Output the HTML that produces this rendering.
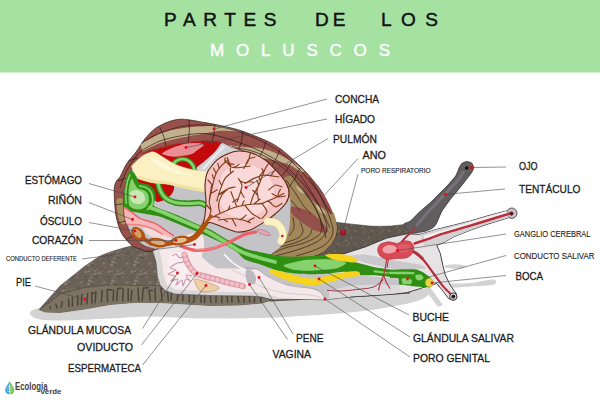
<!DOCTYPE html>
<html><head><meta charset="utf-8"><title>Partes de los moluscos</title>
<style>
html,body{margin:0;padding:0;background:#fff;}
body{width:600px;height:400px;overflow:hidden;font-family:"Liberation Sans",sans-serif;}
svg{display:block;position:absolute;left:0;top:0}
svg text{font-family:"Liberation Sans",sans-serif;}
</style></head><body>
<svg width="600" height="400" viewBox="0 0 600 400">
<defs>
<pattern id="speck" width="23" height="19" patternUnits="userSpaceOnUse">
<rect width="23" height="19" fill="#6b6157"/>
<ellipse cx="7.4" cy="2.9" rx="1.4" ry="0.8" fill="#5e554c"/>
<ellipse cx="2.2" cy="11.1" rx="1.7" ry="1.1" fill="#877c70"/>
<ellipse cx="10.0" cy="1.3" rx="0.8" ry="0.6" fill="#5e554c"/>
<ellipse cx="2.8" cy="4.2" rx="1.4" ry="1.2" fill="#5e554c"/>
<ellipse cx="13.5" cy="0.9" rx="0.9" ry="0.7" fill="#83786c"/>
<ellipse cx="6.7" cy="2.7" rx="0.8" ry="0.5" fill="#645a50"/>
<ellipse cx="4.2" cy="11.1" rx="1.4" ry="1.0" fill="#5e554c"/>
<ellipse cx="16.4" cy="10.7" rx="1.4" ry="1.0" fill="#5e554c"/>
<ellipse cx="9.8" cy="6.0" rx="1.3" ry="1.0" fill="#7d7267"/>
<ellipse cx="5.7" cy="3.4" rx="1.6" ry="0.9" fill="#7d7267"/>
<ellipse cx="12.1" cy="16.6" rx="1.5" ry="1.0" fill="#877c70"/>
<ellipse cx="2.7" cy="7.9" rx="1.5" ry="0.9" fill="#8b8073"/>
<ellipse cx="9.7" cy="18.3" rx="0.8" ry="0.6" fill="#7d7267"/>
<ellipse cx="7.8" cy="6.7" rx="1.2" ry="1.0" fill="#877c70"/>
<ellipse cx="19.3" cy="17.9" rx="1.2" ry="1.0" fill="#877c70"/>
<ellipse cx="16.8" cy="5.9" rx="1.3" ry="1.1" fill="#8b8073"/>
<ellipse cx="6.5" cy="7.3" rx="1.4" ry="0.8" fill="#8b8073"/>
<ellipse cx="8.2" cy="11.6" rx="1.2" ry="0.8" fill="#7d7267"/>
<ellipse cx="3.0" cy="4.7" rx="1.1" ry="1.0" fill="#877c70"/>
<ellipse cx="3.8" cy="7.6" rx="1.0" ry="0.6" fill="#8b8073"/>
<ellipse cx="19.9" cy="5.3" rx="1.2" ry="0.8" fill="#8b8073"/>
<ellipse cx="22.0" cy="2.9" rx="0.9" ry="0.6" fill="#83786c"/>
<ellipse cx="0.3" cy="15.8" rx="0.9" ry="0.6" fill="#83786c"/>
<ellipse cx="23.3" cy="15.8" rx="0.9" ry="0.6" fill="#83786c"/>
<ellipse cx="9.6" cy="7.0" rx="1.3" ry="1.2" fill="#645a50"/>
<ellipse cx="19.8" cy="-0.9" rx="1.4" ry="1.1" fill="#8b8073"/>
<ellipse cx="19.8" cy="18.1" rx="1.4" ry="1.1" fill="#8b8073"/>
<ellipse cx="20.7" cy="14.8" rx="1.7" ry="1.4" fill="#8b8073"/>
<ellipse cx="9.2" cy="7.5" rx="1.2" ry="0.8" fill="#83786c"/>
<ellipse cx="1.5" cy="4.0" rx="0.9" ry="0.6" fill="#877c70"/>
<ellipse cx="2.4" cy="10.8" rx="1.3" ry="1.1" fill="#5e554c"/>
<ellipse cx="0.6" cy="16.6" rx="1.4" ry="0.8" fill="#7d7267"/>
<ellipse cx="23.6" cy="16.6" rx="1.4" ry="0.8" fill="#7d7267"/>
<ellipse cx="-1.0" cy="11.4" rx="1.2" ry="0.7" fill="#8b8073"/>
<ellipse cx="22.0" cy="11.4" rx="1.2" ry="0.7" fill="#8b8073"/>
<ellipse cx="-0.2" cy="8.9" rx="1.2" ry="0.7" fill="#877c70"/>
<ellipse cx="22.8" cy="8.9" rx="1.2" ry="0.7" fill="#877c70"/>
<ellipse cx="17.2" cy="14.1" rx="1.2" ry="1.0" fill="#5e554c"/>
<ellipse cx="0.5" cy="18.1" rx="1.3" ry="0.8" fill="#5e554c"/>
<ellipse cx="23.5" cy="18.1" rx="1.3" ry="0.8" fill="#5e554c"/>
</pattern>
<pattern id="speck2" width="17" height="13" patternUnits="userSpaceOnUse">
<rect width="17" height="13" fill="#60574f"/>
<ellipse cx="15.5" cy="9.9" rx="0.7" ry="0.5" fill="#80766e"/>
<ellipse cx="11.8" cy="3.4" rx="0.8" ry="0.5" fill="#7b716a"/>
<ellipse cx="9.1" cy="10.1" rx="0.7" ry="0.5" fill="#7b716a"/>
<ellipse cx="13.7" cy="10.6" rx="1.0" ry="0.6" fill="#544b46"/>
<ellipse cx="6.0" cy="0.4" rx="0.5" ry="0.3" fill="#746a63"/>
<ellipse cx="3.3" cy="7.9" rx="0.7" ry="0.6" fill="#746a63"/>
<ellipse cx="16.2" cy="4.7" rx="0.7" ry="0.4" fill="#7b716a"/>
<ellipse cx="5.7" cy="6.3" rx="1.2" ry="0.9" fill="#80766e"/>
<ellipse cx="8.2" cy="8.5" rx="1.1" ry="0.6" fill="#80766e"/>
<ellipse cx="15.5" cy="10.2" rx="1.0" ry="0.7" fill="#7b716a"/>
<ellipse cx="7.4" cy="8.3" rx="0.6" ry="0.5" fill="#544b46"/>
<ellipse cx="7.9" cy="9.7" rx="0.6" ry="0.3" fill="#7b716a"/>
<ellipse cx="0.5" cy="7.7" rx="0.8" ry="0.6" fill="#544b46"/>
<ellipse cx="17.5" cy="7.7" rx="0.8" ry="0.6" fill="#544b46"/>
<ellipse cx="11.2" cy="4.6" rx="0.9" ry="0.5" fill="#80766e"/>
<ellipse cx="13.6" cy="9.4" rx="0.6" ry="0.5" fill="#7b716a"/>
<ellipse cx="7.4" cy="11.3" rx="1.1" ry="0.7" fill="#746a63"/>
<ellipse cx="3.6" cy="6.5" rx="1.0" ry="0.7" fill="#544b46"/>
<ellipse cx="14.2" cy="0.8" rx="1.0" ry="0.9" fill="#544b46"/>
<ellipse cx="14.2" cy="13.8" rx="1.0" ry="0.9" fill="#544b46"/>
</pattern>
</defs>
<rect x="0" y="0" width="600" height="400" fill="#ffffff"/>
<rect x="0" y="0" width="600" height="72.5" fill="#a5e1a1"/>
<g font-size="19" fill="#111" stroke="#111" stroke-width="0.45">
<text x="164" y="26" textLength="112.5" lengthAdjust="spacing">PARTES</text>
<text x="315" y="26" textLength="30.5" lengthAdjust="spacing">DE</text>
<text x="381" y="26" textLength="57" lengthAdjust="spacing">LOS</text>
</g>
<text x="210" y="56" font-size="17" textLength="180" lengthAdjust="spacing" fill="#ffffff" stroke="#fff" stroke-width="0.4">MOLUSCOS</text>
<g id="shadow" fill="#d3d3d3">
<path d="M30.0,313.0 C30.3,311.2 31.7,309.2 40.0,308.0 C48.3,306.8 53.3,307.3 80.0,306.0 C106.7,304.7 163.3,301.3 200.0,300.0 C236.7,298.7 270.0,299.2 300.0,298.0 C330.0,296.8 360.0,294.5 380.0,293.0 C400.0,291.5 411.7,289.2 420.0,289.0 C428.3,288.8 430.0,290.2 430.0,292.0 C430.0,293.8 426.7,297.5 420.0,300.0 C413.3,302.5 401.7,304.9 390.0,307.0 C378.3,309.1 365.0,311.0 350.0,312.5 C335.0,314.0 315.0,315.1 300.0,316.0 C285.0,316.9 276.7,317.6 260.0,318.0 C243.3,318.4 218.3,318.8 200.0,318.5 C181.7,318.2 165.0,316.5 150.0,316.5 C135.0,316.5 125.0,317.8 110.0,318.5 C95.0,319.2 72.0,320.4 60.0,320.5 C48.0,320.6 43.0,320.2 38.0,319.0 C33.0,317.8 29.7,314.8 30.0,313.0 Z" fill="#d3d3d3"/>
<path d="M424.0,288.0 L430.0,287.0 L443.0,305.0 L438.0,307.0 Z" fill="#d3d3d3"/>
<ellipse cx="455" cy="266.5" rx="11" ry="2.2"/>
<path d="M440.0,284.0 C444.7,283.2 461.3,283.8 470.0,283.0 C478.7,282.2 487.7,279.7 492.0,279.5 C496.3,279.3 496.0,281.1 496.0,282.0 C496.0,282.9 496.3,284.2 492.0,285.0 C487.7,285.8 478.3,286.0 470.0,286.5 C461.7,287.0 447.0,288.4 442.0,288.0 C437.0,287.6 435.3,284.8 440.0,284.0 Z" fill="#d3d3d3"/>
</g>
<g id="foot">
<path d="M39.0,309.5 L60.0,286.0 L85.0,266.0 L100.0,256.0 L110.0,252.0 L125.0,247.5 L137.0,244.5 L150.0,246.0 L160.0,250.0 L165.0,280.0 L175.0,292.0 L210.0,295.0 L262.0,296.0 L272.0,300.0 L262.0,303.0 L240.0,305.0 L210.0,305.5 L185.0,304.0 L160.0,302.5 L135.0,302.5 L110.0,304.5 L85.0,309.0 L60.0,312.5 L45.0,312.0 Z" fill="url(#speck)" stroke="#4a433e" stroke-width="0.5"/>
<path d="M40.0,310.0 L60.0,294.0 L85.0,287.5 L110.0,285.0 L160.0,286.0 L210.0,294.0 L262.0,296.5 L272.0,300.0 L262.0,303.0 L240.0,305.0 L210.0,305.5 L185.0,304.0 L160.0,302.5 L135.0,302.5 L110.0,304.5 L85.0,309.0 L60.0,312.5 L45.0,312.0 Z" fill="#7d7363"/>
<path d="M40.0,310.0 L60.0,294.0 L85.0,287.5 L110.0,285.0 L160.0,286.0 L210.0,294.0 L262.0,296.5 L272.0,300.0" fill="none" stroke="#4e463e" stroke-width="0.6"/>
<path d="M50.0,306.8 L50.3,308.8 M55.9,304.3 L57.0,308.0 M62.2,301.7 L61.1,307.2 M68.5,299.0 L68.9,306.4 M72.4,297.4 L72.4,305.9 M77.6,295.5 L77.8,305.2 M81.9,294.6 L81.3,304.7 M87.7,293.5 L86.9,303.9 M91.7,292.7 L92.0,303.4 M91.7,292.7 L94.2,293.3 M95.9,291.8 L95.2,302.8 M102.0,290.6 L101.5,302.0 M107.2,289.6 L107.6,301.4 M107.2,289.6 L112.0,290.0 M113.6,290.2 L113.1,300.8 M117.7,288.4 L116.6,300.8 M117.7,288.4 L121.7,287.9 M123.2,288.8 L122.8,300.8 M128.2,288.8 L128.2,300.8 M132.0,290.4 L130.8,300.8 M138.0,288.0 L138.7,300.8 M143.3,288.0 L142.2,300.8 M143.3,288.0 L148.2,287.8 M149.1,290.3 L150.2,300.8 M149.1,290.3 L152.5,290.5 M155.0,288.3 L155.5,300.8 M161.0,288.1 L162.1,300.8 M161.0,288.1 L164.4,288.4 M167.3,288.8 L168.3,300.8 M171.8,288.8 L171.0,300.8 M171.8,288.8 L174.7,289.2 M178.3,288.4 L177.2,300.8 M183.5,289.0 L182.8,300.8 M189.4,289.1 L189.3,302.3 M189.4,289.1 L194.2,288.7 M194.5,290.1 L193.6,302.3 M200.8,289.1 L201.1,302.3 M204.7,289.6 L204.6,302.3 M204.7,289.6 L209.4,289.5 M209.7,290.2 L210.9,302.3 M216.1,290.9 L216.0,302.3 M221.8,291.6 L221.8,302.3 M221.8,291.6 L225.3,291.3 M226.5,292.2 L227.7,302.3 M231.9,292.8 L231.9,302.3 M231.9,292.8 L234.6,292.7 M237.8,293.5 L238.7,302.3 M243.7,294.2 L244.3,302.3 M249.2,294.9 L249.8,302.3 M254.8,295.6 L254.3,302.3 M260.7,296.3 L261.1,302.3 M260.7,296.3 L265.5,296.6 " fill="none" stroke="#4c443c" stroke-width="1.5" stroke-linecap='round'/>
<path d="M268.0,299.0 L300.0,298.0 L350.0,295.5 L410.0,291.8 L410.0,293.5 L350.0,297.5 L300.0,300.0 L270.0,301.5 Z" fill="#5d544c"/>
</g>
<g id="darkbody">
<path d="M300.0,215.0 C304.5,211.5 328.0,220.9 335.0,222.0 C342.0,223.1 364.5,225.6 370.0,226.0 C375.5,226.4 386.7,226.2 390.0,226.0 C393.3,225.8 400.9,225.0 403.0,224.5 C405.1,224.0 408.9,222.2 410.5,221.0 C412.1,219.8 417.0,214.4 419.0,212.5 C421.0,210.6 428.7,204.2 430.7,202.4 C432.7,200.6 437.3,195.7 439.0,194.0 C440.7,192.3 445.7,187.4 447.4,185.6 C449.1,183.8 454.6,177.6 455.8,175.8 C457.0,174.0 458.7,168.8 459.3,167.6 C459.9,166.4 461.1,164.2 461.8,163.6 C462.5,163.0 465.5,161.7 466.5,161.6 C467.5,161.5 470.9,162.4 471.6,163.0 C472.3,163.6 473.6,166.5 473.6,167.5 C473.6,168.5 472.5,171.2 471.6,172.6 C470.7,174.0 466.3,179.5 465.0,181.2 C463.7,182.9 459.8,187.8 458.3,189.7 C456.8,191.6 451.6,197.6 450.0,199.8 C448.4,202.0 443.1,209.0 441.8,211.3 C440.5,213.6 437.5,221.3 436.6,223.0 C435.7,224.7 434.0,227.0 432.7,227.8 C431.4,228.7 426.6,230.9 424.0,231.5 C421.4,232.1 410.7,233.2 407.0,233.8 C403.3,234.5 391.2,236.7 387.0,238.0 C382.8,239.3 369.2,245.5 365.0,247.0 C360.8,248.5 350.7,252.4 345.0,253.4 C339.3,254.4 313.5,256.6 308.0,257.0 C302.5,257.4 290.8,261.2 290.0,257.0 C289.2,252.8 295.5,218.5 300.0,215.0 Z" fill="url(#speck2)" stroke="#3c3636" stroke-width="0.5"/>
<path d="M404.0,224.0 C404.1,222.8 409.0,222.2 410.5,221.0 C412.0,219.8 417.0,214.4 419.0,212.5 C421.0,210.6 428.7,204.2 430.7,202.4 C432.7,200.6 437.3,195.7 439.0,194.0 C440.7,192.3 445.7,187.4 447.4,185.6 C449.1,183.8 454.6,177.6 455.8,175.8 C457.0,174.0 458.7,168.8 459.3,167.6 C459.9,166.4 461.1,164.2 461.8,163.6 C462.5,163.0 465.5,161.7 466.5,161.6 C467.5,161.5 470.9,162.4 471.6,163.0 C472.3,163.6 473.6,166.5 473.6,167.5 C473.6,168.5 472.5,171.2 471.6,172.6 C470.7,174.0 466.3,179.5 465.0,181.2 C463.7,182.9 459.8,187.8 458.3,189.7 C456.8,191.6 451.6,197.6 450.0,199.8 C448.4,202.0 443.1,209.0 441.8,211.3 C440.5,213.6 437.5,221.3 436.6,223.0 C435.7,224.7 434.0,227.0 432.7,227.8 C431.4,228.7 426.3,231.0 424.0,231.5 C421.7,232.0 412.0,233.8 410.0,233.0 C408.0,232.2 403.9,225.2 404.0,224.0 Z" fill="#625d5e" stroke="#3c3636" stroke-width="0.5"/>
<path d="M416.0,226.0 C418.3,223.3 425.2,215.3 430.0,210.0 C434.8,204.7 440.3,199.0 445.0,194.0 C449.7,189.0 454.8,183.8 458.0,180.0 C461.2,176.2 463.0,172.5 464.0,171.0" fill="none" stroke="#75727a" stroke-width="3"/>
<circle cx="466.7" cy="168" r="1.8" fill="#141010"/>
</g>
<g id="body">
<path d="M149.0,245.0 L153.0,252.0 L156.0,262.0 L157.5,277.0 L160.0,285.0 L165.0,290.5 L175.0,294.0 L210.0,295.5 L250.0,296.0 L262.0,297.0 L272.0,299.8 L300.0,299.0 L325.0,300.0 L350.0,297.0 L380.0,295.0 L380.0,264.0 L340.0,259.0 L318.0,257.5 L300.0,250.0 L200.0,228.0 L150.0,238.0 Z" fill="#d9d6d8" stroke="#4a4444" stroke-width="0.5"/>
<path d="M156.0,246.0 L160.0,252.0 L162.0,262.0 L163.5,276.0 L167.0,285.0 L175.0,289.5 L210.0,291.5 L250.0,292.3 L262.0,292.5 L278.5,297.5 L295.0,299.0 L324.0,299.3 L321.0,292.0 L312.0,288.6 L287.0,285.0 L267.0,276.0 L257.0,268.5 L250.0,265.0 L230.0,240.0 L200.0,230.0 L160.0,238.0 Z" fill="#f5e8ea"/>
<path d="M200.0,228.0 L201.0,245.0 L202.0,257.0 L209.0,263.5 L217.0,268.5 L237.0,268.5 L250.0,270.0 L257.0,269.0 L267.0,276.0 L287.0,285.0 L312.0,288.6 L320.0,292.0 L326.0,298.5 L350.0,296.3 L380.0,294.3 L380.0,264.0 L340.0,259.0 L318.0,257.5 L300.0,250.0 L250.0,232.0 Z" fill="#c3c3c8"/>
<path d="M246.0,270.0 C246.8,268.2 250.3,269.7 252.0,271.0 C253.7,272.3 255.7,275.8 256.0,278.0 C256.3,280.2 255.5,283.3 254.0,284.0 C252.5,284.7 248.3,284.3 247.0,282.0 C245.7,279.7 245.2,271.8 246.0,270.0 Z" fill="#b9b9be"/>
<path d="M245.0,268.0 C247.0,268.2 253.3,267.7 257.0,269.0 C260.7,270.3 262.0,273.3 267.0,276.0 C272.0,278.7 279.5,282.9 287.0,285.0 C294.5,287.1 306.5,287.4 312.0,288.6 C317.5,289.8 317.8,290.4 320.0,292.0 C322.2,293.6 324.2,297.4 325.0,298.5" fill="none" stroke="#8a8086" stroke-width="0.5"/>
<path d="M232.0,270.0 C234.2,271.0 240.0,273.2 245.0,276.0 C250.0,278.8 255.3,284.2 262.0,287.0 C268.7,289.8 277.0,291.7 285.0,293.0 C293.0,294.3 303.8,294.2 310.0,295.0 C316.2,295.8 320.0,297.5 322.0,298.0" fill="none" stroke="#b8aeb4" stroke-width="0.5"/>
<path d="M224.0,254.0 C225.3,255.3 229.3,259.8 232.0,262.0 C234.7,264.2 237.7,266.2 240.0,267.5 C242.3,268.8 245.0,269.6 246.0,270.0" fill="none" stroke="#fbf7f8" stroke-width="1.6"/>
<path d="M170.0,254.0 C171.7,252.2 178.7,252.1 181.0,252.5 C183.3,252.9 186.3,255.2 187.0,257.0 C187.7,258.8 185.5,263.7 186.0,266.0 C186.5,268.3 190.2,272.0 191.0,274.0 C191.8,276.0 192.9,279.3 192.0,281.0 C191.1,282.7 186.4,286.3 184.0,287.0 C181.6,287.7 176.3,287.2 174.0,286.0 C171.7,284.8 167.8,280.7 167.0,278.0 C166.2,275.3 167.6,269.2 168.0,266.0 C168.4,262.8 168.3,255.8 170.0,254.0 Z" fill="#faeef0"/>
<path d="M172.0,256.0 C172.5,255.7 174.9,253.7 176.0,254.0 C177.1,254.3 178.8,257.9 180.0,258.0 C181.2,258.1 184.6,254.5 185.0,255.0 C185.4,255.5 184.1,260.9 183.0,262.0 C181.9,263.1 178.7,262.2 177.0,263.0 C175.3,263.8 170.1,267.1 170.0,268.0 C169.9,268.9 176.3,269.2 176.0,270.0 C175.7,270.8 168.1,273.2 168.0,274.0 C167.9,274.8 174.6,275.1 175.0,276.0 C175.4,276.9 170.6,280.6 171.0,281.0 C171.4,281.4 177.3,278.5 178.0,279.0 C178.7,279.5 175.5,284.9 176.0,285.0 C176.5,285.1 181.1,279.9 182.0,280.0 C182.9,280.1 182.5,286.1 183.0,286.0 C183.5,285.9 185.1,279.7 186.0,279.0 C186.9,278.3 190.0,281.5 190.0,281.0 C190.0,280.5 185.7,275.7 186.0,275.0 C186.3,274.3 191.2,275.9 192.0,276.0" fill="none" stroke="#c59aae" stroke-width="1.1"/>
<path d="M184.5,254.5 C184.9,255.8 185.9,259.7 187.0,262.0 C188.1,264.3 189.5,266.6 191.0,268.5 C192.5,270.4 193.7,272.2 196.0,273.5 C198.3,274.8 201.8,275.6 205.0,276.5 C208.2,277.4 211.5,278.1 215.0,279.0 C218.5,279.9 222.5,281.1 226.0,282.0 C229.5,282.9 233.2,283.8 236.0,284.5 C238.8,285.2 241.8,285.9 243.0,286.2" fill="none" stroke="#dc9aa8" stroke-width="6" stroke-linecap='round'/>
<path d="M184.5,254.5 C184.9,255.8 185.9,259.7 187.0,262.0 C188.1,264.3 189.5,266.6 191.0,268.5 C192.5,270.4 193.7,272.2 196.0,273.5 C198.3,274.8 201.8,275.6 205.0,276.5 C208.2,277.4 211.5,278.1 215.0,279.0 C218.5,279.9 222.5,281.1 226.0,282.0 C229.5,282.9 233.2,283.8 236.0,284.5 C238.8,285.2 241.8,285.9 243.0,286.2" fill="none" stroke="#f4c0c8" stroke-width="4.3" stroke-linecap='round' stroke-dasharray='0.1 4.9'/>
<path d="M194.5,279.5 C195.2,278.4 200.7,280.4 203.0,281.0 C205.3,281.6 209.8,283.1 212.0,284.0 C214.2,284.9 219.4,287.1 219.5,288.0 C219.6,288.9 215.1,290.5 213.0,291.0 C210.9,291.5 206.0,292.3 204.0,292.0 C202.0,291.7 199.3,290.7 198.0,289.0 C196.7,287.3 193.8,280.6 194.5,279.5 Z" fill="#f1cfa6" stroke="#b58a5c" stroke-width="0.6"/>
</g>
<g id="headbase">
<path d="M340.0,254.5 L345.0,253.4 L365.0,247.0 L387.0,238.0 L407.0,233.8 L420.0,234.4 L436.8,229.3 L453.5,225.2 L470.3,221.0 L487.0,216.0 L506.3,210.9 L508.8,217.6 L487.0,224.3 L470.3,230.2 L453.5,236.9 L445.1,241.9 L436.8,245.3 L440.3,253.4 L442.8,265.1 L445.3,275.2 L450.3,285.2 L456.2,293.6 L456.8,297.5 L454.0,300.2 L450.5,299.5 L448.6,298.6 L443.6,291.9 L436.9,283.5 L433.6,284.4 L420.2,288.6 L406.8,292.7 L390.0,294.4 L350.0,296.8 L330.0,298.0 L330.0,258.0 Z" fill="#e7e3e5"/>
<path d="M340.0,254.5 L345.0,253.4 L365.0,247.0 L387.0,238.0 L407.0,233.8 L420.0,234.4 L436.8,229.3 L453.5,225.2 L470.3,221.0 L487.0,216.0 L506.3,210.9 L508.8,217.6 L487.0,224.3 L470.3,230.2 L453.5,236.9 L445.1,241.9 L436.8,245.3 L440.3,253.4 L442.8,265.1 L445.3,275.2 L450.3,285.2 L456.2,293.6 L456.8,297.5 L454.0,300.2 L450.5,299.5 L448.6,298.6 L443.6,291.9 L436.9,283.5 L433.6,284.4 L420.2,288.6 L406.8,292.7 L390.0,294.4 L350.0,296.8" fill="none" stroke="#343036" stroke-width="0.9" stroke-linejoin='round'/>
<circle cx="511.8" cy="213.2" r="5.2" fill="#c6c3c6" stroke="#3a3434" stroke-width="0.8"/>
<circle cx="511.4" cy="213.6" r="2.1" fill="#7a2a32"/><circle cx="511.4" cy="213.6" r="1.4" fill="#2a1a1c"/>
<path d="M350.0,256.0 C351.2,255.4 360.9,254.2 365.0,254.5 C369.1,254.8 380.9,257.7 385.0,258.5 C389.1,259.3 395.9,260.8 400.0,261.5 C404.1,262.2 417.1,263.7 420.0,264.5 C422.9,265.3 427.3,267.9 425.0,268.5 C422.7,269.1 404.7,269.6 400.0,269.5 C395.3,269.4 388.5,268.1 385.0,267.5 C381.5,266.9 373.5,264.9 370.0,264.0 C366.5,263.1 357.3,260.4 355.0,259.5 C352.7,258.6 348.8,256.6 350.0,256.0 Z" fill="#cac8cc"/>
<path d="M329.0,272.0 L345.0,274.0 L360.0,275.5 L398.0,278.5 L399.0,285.5 L380.0,284.5 L350.0,286.0 L329.0,291.0 Z" fill="#c6c5c9"/>
<path d="M329.0,291.0 L350.0,286.0 L380.0,284.5 L399.0,285.5 L402.0,292.5 L390.0,294.0 L350.0,296.5 L329.0,298.0 Z" fill="#dcd9dc"/>
<path d="M419.0,236.0 C420.6,234.5 427.7,233.0 430.0,233.0 C432.3,233.0 435.7,234.5 436.0,236.0 C436.3,237.5 433.6,242.3 432.0,244.0 C430.4,245.7 425.9,249.0 424.0,249.0 C422.1,249.0 418.7,245.7 418.0,244.0 C417.3,242.3 417.4,237.5 419.0,236.0 Z" fill="#f0e0e3"/>
<path d="M420.0,234.6 L436.8,229.5 L453.5,225.4 L470.3,221.2 L487.0,216.2 L506.3,211.1 L508.6,217.4 L487.0,224.1 L470.3,230.0 L453.5,236.7 L445.1,241.7 L436.8,245.0 L424.0,246.0 Z" fill="#d4d1d4"/>
<path d="M424.0,237.5 L453.5,229.0 L487.0,218.8 L507.0,213.0" fill="none" stroke="#f3eeef" stroke-width="3.6"/>
</g>
<g id="shell">
<path d="M150.0,251.5 C146.2,251.9 142.7,249.9 140.0,249.0 C137.3,248.1 134.5,247.6 131.8,245.3 C129.1,243.0 124.1,238.0 121.7,233.5 C119.3,229.0 117.0,221.5 115.9,215.0 C114.8,208.5 114.1,195.1 114.2,190.0 C114.3,184.9 115.6,182.9 116.5,181.0 C117.4,179.1 118.5,179.6 120.0,177.0 C121.5,174.4 124.4,167.3 126.8,163.6 C129.2,159.8 133.2,155.8 136.0,152.0 C138.8,148.2 142.3,142.0 145.2,138.5 C148.1,135.0 151.8,130.9 155.3,128.4 C158.8,125.9 164.7,123.1 168.7,121.7 C172.7,120.3 176.6,119.1 182.0,119.2 C187.4,119.3 198.6,121.5 205.0,122.6 C211.4,123.7 219.5,125.2 225.0,126.5 C230.5,127.8 235.5,128.8 241.9,131.0 C248.3,133.2 261.7,138.6 267.5,141.2 C273.3,143.9 276.8,146.3 280.5,148.9 C284.2,151.5 288.8,155.5 292.5,158.9 C296.2,162.3 300.9,166.6 305.3,171.5 C309.7,176.4 317.7,185.1 322.0,191.9 C326.3,198.7 331.6,211.5 333.8,217.0 C336.1,222.5 337.0,225.0 337.0,228.5 C337.0,232.0 336.1,236.6 333.8,240.2 C331.6,243.8 327.0,250.0 322.0,252.8 C317.0,255.6 309.0,257.9 300.2,259.0 C291.4,260.1 270.9,260.8 263.4,260.3 C255.9,259.9 255.3,258.3 250.0,256.0 C244.7,253.7 235.5,247.6 228.0,245.0 C220.5,242.4 209.4,238.8 200.0,239.0 C190.6,239.2 172.5,244.1 165.0,246.0 C157.5,247.9 153.8,251.1 150.0,251.5 Z" fill="#97504a" stroke="#2a1a16" stroke-width="0.7"/>
<path d="M283.0,180.0 C282.7,182.5 288.4,190.8 289.4,195.0 C290.4,199.2 290.2,207.2 290.2,211.7 C290.2,216.2 290.3,224.2 289.4,228.5 C288.5,232.8 286.5,239.8 283.5,243.6 C280.5,247.4 269.4,254.8 266.7,257.0 C264.0,259.2 258.9,260.0 263.4,260.3 C267.9,260.6 292.4,260.0 300.2,259.0 C308.0,258.0 317.5,255.3 322.0,252.8 C326.5,250.3 331.8,243.4 333.8,240.2 C335.8,237.0 336.9,231.9 337.0,228.5 C337.1,225.1 335.4,217.3 334.6,215.0 C333.8,212.7 332.7,212.3 331.0,211.0 C329.3,209.7 324.5,207.0 322.0,205.0 C319.5,203.0 314.7,198.5 312.0,196.0 C309.3,193.5 304.7,188.7 302.0,186.0 C299.3,183.3 294.5,176.8 292.0,176.0 C289.5,175.2 283.3,177.5 283.0,180.0 Z" fill="#a2875a"/>
<path d="M226.0,145.5 C225.7,145.2 227.8,145.4 230.0,145.6 C232.2,145.8 239.2,146.6 242.5,146.9 C245.8,147.2 251.7,147.1 255.0,147.5 C258.3,147.9 264.2,149.0 267.5,150.0 C270.8,151.0 276.7,153.4 280.0,155.0 C283.3,156.6 289.7,160.2 292.5,161.9 C295.3,163.6 299.2,166.4 301.0,168.0 C302.8,169.6 306.1,173.6 306.0,174.0 C305.9,174.4 302.1,172.4 300.0,171.2 C297.9,170.1 292.7,166.2 290.0,165.0 C287.3,163.8 283.0,162.7 280.0,161.9 C277.0,161.1 270.0,159.3 267.5,158.8 C265.0,158.2 263.8,158.9 261.2,158.1 C258.8,157.3 251.6,153.7 248.8,152.5 C245.9,151.3 242.2,149.4 240.0,148.8 C237.8,148.1 233.9,148.2 232.0,147.8 C230.1,147.4 226.3,145.8 226.0,145.5 Z" fill="#c2b08c"/>
<path d="M296.0,186.0 C296.3,185.7 300.7,188.4 302.0,189.5 C303.3,190.6 306.3,193.7 306.0,194.0 C305.7,194.3 301.3,193.1 300.0,192.0 C298.7,190.9 295.7,186.3 296.0,186.0 Z" fill="#c4b188"/>
<path d="M316.0,205.0 C316.3,204.5 320.7,206.7 322.0,208.0 C323.3,209.3 325.8,214.0 325.5,214.5 C325.2,215.0 321.3,213.3 320.0,212.0 C318.7,210.7 315.7,205.5 316.0,205.0 Z" fill="#cbb992"/>
<path d="M291.0,206.5 C292.4,206.1 297.1,207.2 300.0,208.0 C302.9,208.8 307.0,210.2 310.0,212.0 C313.0,213.8 317.4,217.4 320.0,220.0 C322.6,222.6 326.6,227.6 327.5,229.5 C328.4,231.4 327.9,232.3 326.0,232.5 C324.1,232.7 318.3,231.8 315.0,230.5 C311.7,229.2 307.0,226.0 304.0,224.0 C301.0,222.0 297.0,218.9 295.0,217.0 C293.0,215.1 291.1,212.6 290.5,211.0 C289.9,209.4 289.6,206.9 291.0,206.5 Z" fill="#94504a"/>
<path d="M305.3,171.5 C307.2,172.2 311.8,178.8 314.0,181.5 C316.2,184.2 320.1,189.0 322.0,191.9 C323.9,194.8 327.0,200.1 328.5,203.0 C330.0,205.9 333.5,213.1 333.0,214.0 C332.5,214.9 327.3,210.9 325.0,209.5 C322.7,208.1 318.4,205.4 316.0,203.5 C313.6,201.6 308.9,197.8 307.0,195.5 C305.1,193.2 303.0,188.5 302.0,186.0 C301.0,183.5 299.1,178.4 299.5,176.5 C299.9,174.6 303.4,170.8 305.3,171.5 Z" fill="#97504a"/>
<path d="M141.0,144.0 C141.6,142.7 146.3,140.9 148.0,140.0 C149.7,139.1 153.9,136.8 155.3,136.0 C156.7,135.2 158.3,134.1 160.0,133.5 C161.7,132.9 167.7,131.1 170.0,130.5 C172.3,129.9 177.7,128.9 180.0,128.5 C182.3,128.1 187.7,127.4 190.0,127.2 C192.3,127.0 197.7,126.6 200.0,126.5 C202.3,126.4 207.7,126.1 210.0,126.0 C212.3,125.9 217.7,125.7 220.0,126.0 C222.3,126.3 227.7,127.8 230.0,128.5 C232.3,129.2 240.0,131.5 240.0,131.8 C240.0,132.1 232.3,131.1 230.0,131.0 C227.7,130.9 222.3,130.6 220.0,130.8 C217.7,131.0 212.3,131.9 210.0,132.3 C207.7,132.7 202.3,133.9 200.0,134.3 C197.7,134.7 192.3,135.6 190.0,136.0 C187.7,136.4 182.3,137.5 180.0,138.0 C177.7,138.5 172.3,139.7 170.0,140.3 C167.7,140.9 161.7,142.5 160.0,143.0 C158.3,143.5 156.8,144.3 155.3,145.0 C153.8,145.7 148.5,148.3 147.0,149.0 C145.5,149.7 143.4,151.6 142.7,151.0 C142.0,150.4 140.4,145.3 141.0,144.0 Z" fill="#c2b08c"/>
<path d="M116.5,200.0 C117.2,198.3 121.6,197.1 122.5,199.0 C123.4,200.9 122.7,210.7 123.0,214.0 C123.3,217.3 125.4,222.9 125.0,224.0 C124.6,225.1 121.0,223.6 120.0,222.0 C119.0,220.4 118.0,214.9 117.5,212.0 C117.0,209.1 115.8,201.7 116.5,200.0 Z" fill="#a8935f"/>
<path d="M124.0,180.0 C124.1,178.7 127.9,173.5 129.5,171.0 C131.1,168.5 134.6,163.0 136.0,161.0 C137.4,159.0 139.3,156.1 140.0,156.0 C140.7,155.9 141.8,158.1 141.0,160.0 C140.2,161.9 135.7,167.2 134.0,170.0 C132.3,172.8 129.8,179.7 128.5,181.0 C127.2,182.3 123.9,181.3 124.0,180.0 Z" fill="#9a6a58"/>
<path d="M120.0,188.0 C121.0,185.3 124.3,175.1 127.0,170.0 C129.7,164.9 135.0,157.4 138.0,154.0 C141.0,150.6 143.7,149.4 147.0,147.5 C150.3,145.6 155.1,142.7 160.0,141.0 C164.9,139.3 173.2,137.1 180.0,136.0 C186.8,134.9 197.2,132.9 205.0,133.5 C212.8,134.1 223.8,137.4 232.0,140.0 C240.2,142.6 252.1,147.1 260.0,151.0 C267.9,154.9 278.2,160.8 285.0,166.0 C291.8,171.2 299.8,179.8 305.0,186.0 C310.2,192.2 316.2,200.7 320.0,207.0 C323.8,213.3 328.5,224.8 330.0,228.0 M141.0,143.5 C143.1,142.2 149.4,137.6 155.3,135.1 C161.2,132.6 172.9,128.2 180.4,126.7 C187.9,125.2 197.9,124.7 205.0,125.0 C212.1,125.3 220.5,126.5 228.0,128.5 C235.5,130.4 247.2,134.5 255.0,138.0 C262.8,141.5 273.2,147.2 280.0,152.0 C286.8,156.8 294.3,164.0 300.0,170.0 C305.7,176.0 313.4,185.4 318.0,192.0 C322.6,198.6 329.1,210.7 331.0,214.0 M232.0,146.5 C235.4,147.3 248.6,149.7 255.0,152.0 C261.4,154.3 269.4,158.4 275.0,162.0 C280.6,165.6 287.1,170.9 292.0,176.0 C296.9,181.1 303.8,189.7 308.0,196.0 C312.2,202.3 317.3,211.7 320.0,218.0 C322.7,224.3 325.1,235.0 326.0,238.0 M160,127.5 Q164.5,136.3 166,146 M189,119.5 Q190.3,131.1 188,142.5 M215,124.5 Q214.9,133.2 212,141.5 M243,131.5 Q242.1,142.2 238,152 M266,141.5 Q263.8,150.3 259,158 M280,149.5 Q276.9,159.0 271,167 M292,161 Q287.4,170.5 280,178 M300,168 Q295.3,180.0 287,190 M128,161.5 Q132.7,158.9 138,158 M118,181 Q122.8,178.7 128,178 M115,205 Q119.7,203.7 124.5,204 M118,223 Q122.3,221.3 127,221 M126,239.5 Q129.7,237.1 134,236 M309.0,177.0 C310.5,179.4 316.0,187.3 319.0,193.0 C322.0,198.7 326.6,209.2 328.7,215.0 C330.8,220.8 333.4,227.7 333.0,232.0 C332.6,236.3 329.1,241.2 326.0,244.0 C322.9,246.8 316.5,249.2 312.0,251.0 C307.5,252.8 298.4,255.2 296.0,256.0 M300.0,175.0 C301.8,177.7 308.7,187.5 312.0,193.0 C315.3,198.5 319.8,206.4 322.0,211.7 C324.2,217.0 327.1,224.4 327.0,228.5 C326.9,232.6 323.9,236.4 321.0,239.0 C318.1,241.6 312.4,244.1 308.0,246.0 C303.6,247.9 296.8,250.0 291.9,251.5 C286.9,253.0 277.5,255.3 275.0,256.0 M292.0,176.0 C293.8,178.4 300.7,187.7 304.0,192.0 C307.3,196.3 311.2,200.8 313.7,205.0 C316.2,209.2 319.4,215.7 320.4,220.0 C321.4,224.3 322.7,230.1 320.4,233.5 C318.1,236.9 310.8,240.2 305.3,242.5 C299.8,244.8 289.1,246.5 283.5,248.5 C277.9,250.5 270.3,254.9 268.0,256.0 M286.0,180.0 C287.5,182.1 293.4,190.2 296.0,194.0 C298.6,197.8 300.8,202.0 303.0,205.0 C305.2,208.0 309.8,212.7 311.0,214.0 M291.0,200.0 C291.8,200.9 294.6,204.3 296.0,206.0 C297.4,207.7 299.4,210.2 300.0,211.0 M300.0,222.0 C300.4,223.3 303.3,228.6 303.0,231.0 C302.7,233.4 300.9,236.2 298.0,238.0 C295.1,239.8 286.1,242.2 284.0,243.0 M293.0,217.0 C293.1,218.7 294.6,225.2 294.0,228.0 C293.4,230.8 289.8,234.8 289.0,236.0 M312.0,229.0 C311.6,230.1 311.4,234.0 309.0,236.0 C306.6,238.0 300.4,240.8 296.0,242.5 C291.6,244.2 282.4,246.3 280.0,247.0" fill="none" stroke="#241612" stroke-width="0.65"/>
</g>
<g id="organs">
<path d="M124.2,190.0 C124.7,186.5 127.3,179.9 128.4,177.0 C129.5,174.1 132.6,167.5 134.0,165.0 C135.4,162.5 138.4,156.8 140.2,155.2 C141.9,153.6 147.2,151.7 149.0,151.0 C150.8,150.3 153.1,150.0 155.3,149.4 C157.5,148.8 165.1,146.7 168.0,146.0 C170.9,145.3 176.1,144.1 180.4,143.5 C184.7,142.9 200.1,141.1 205.0,141.0 C209.9,140.9 218.8,142.2 222.0,143.0 C225.2,143.8 229.7,147.1 232.0,148.0 C234.3,148.9 239.8,150.5 241.9,151.0 C244.0,151.5 247.6,151.5 250.3,152.6 C253.0,153.7 262.0,157.6 265.3,160.0 C268.6,162.4 276.3,170.3 278.8,173.5 C281.3,176.7 285.6,183.7 287.0,187.0 C288.4,190.3 290.1,199.1 290.5,202.0 C290.9,204.9 290.3,208.6 290.2,211.7 C290.1,214.8 290.2,224.8 289.4,228.5 C288.6,232.2 286.1,240.3 283.5,243.6 C280.9,246.9 270.6,255.3 266.7,257.0 C262.8,258.7 254.5,259.3 250.0,258.0 C245.5,256.7 233.8,248.1 228.0,246.0 C222.2,243.9 207.3,239.8 200.0,240.0 C192.7,240.2 170.4,246.5 165.0,247.5 C159.6,248.5 156.0,248.9 153.5,248.6 C151.0,248.3 146.0,246.9 143.5,245.3 C141.0,243.7 133.8,237.7 131.8,235.2 C129.8,232.7 127.6,226.8 126.7,223.5 C125.8,220.2 124.5,210.6 124.2,206.7 C123.9,202.8 123.7,193.5 124.2,190.0 Z" fill="#c3c3c8"/>
<path d="M153.5,248.6 C152.3,248.2 146.0,246.9 143.5,245.3 C141.0,243.7 133.8,237.7 131.8,235.2 C129.8,232.7 127.6,226.8 126.7,223.5 C125.8,220.2 124.5,210.6 124.2,206.7 C123.9,202.8 123.7,193.5 124.2,190.0 C124.7,186.5 127.3,179.9 128.4,177.0 C129.5,174.1 132.6,167.5 134.0,165.0 C135.4,162.5 138.4,156.8 140.2,155.2 C141.9,153.6 147.2,151.7 149.0,151.0 C150.8,150.3 153.1,150.0 155.3,149.4 C157.5,148.8 165.1,146.7 168.0,146.0 C170.9,145.3 176.1,144.1 180.4,143.5 C184.7,142.9 200.1,141.1 205.0,141.0 C209.9,140.9 218.8,142.2 222.0,143.0 C225.2,143.8 230.8,147.4 232.0,148.0" fill="none" stroke="#2a1a16" stroke-width="0.5"/>
<path d="M186.0,236.0 C188.1,234.1 193.7,233.0 196.0,233.0 C198.3,233.0 201.9,234.0 203.0,236.0 C204.1,238.0 204.4,245.3 204.0,248.0 C203.6,250.7 202.1,255.5 200.0,256.0 C197.9,256.5 190.7,253.2 188.0,252.0 C185.3,250.8 180.3,249.1 180.0,247.0 C179.7,244.9 183.9,237.9 186.0,236.0 Z" fill="#f5e8ea"/>
<path d="M137.0,162.0 C135.6,162.4 138.8,157.8 139.5,157.0 C140.2,156.2 142.6,154.1 143.5,153.5 C144.4,152.9 147.8,151.4 149.0,151.0 C150.2,150.6 153.4,149.9 155.3,149.4 C157.2,148.9 165.5,146.6 168.0,146.0 C170.5,145.4 176.7,144.0 180.4,143.5 C184.1,143.0 200.8,141.1 205.0,141.0 C209.2,140.9 221.0,141.9 222.0,143.0 C223.0,144.1 216.7,150.2 215.0,152.0 C213.3,153.8 206.8,159.4 205.0,161.0 C203.2,162.6 198.2,166.5 197.0,167.5 C195.8,168.5 195.0,171.2 193.0,171.0 C191.0,170.8 179.8,167.2 177.0,166.0 C174.2,164.8 167.7,160.7 165.3,159.4 C163.0,158.1 156.3,152.4 153.5,152.7 C150.7,153.0 138.4,161.6 137.0,162.0 Z" fill="#c20a0d"/>
<path d="M222.0,143.0 C223.7,142.6 230.1,147.2 232.0,148.0 C233.9,148.8 241.3,150.5 241.0,151.0 C240.7,151.5 230.9,152.5 228.5,153.4 C226.1,154.3 218.9,158.2 216.8,160.1 C214.7,161.9 208.8,169.7 207.6,171.9 C206.4,174.1 205.8,182.0 205.0,182.0 C204.2,182.0 200.8,173.4 200.0,172.0 C199.2,170.6 196.5,168.6 197.0,167.5 C197.5,166.4 203.2,162.6 205.0,161.0 C206.8,159.4 213.3,153.8 215.0,152.0 C216.7,150.2 220.3,143.4 222.0,143.0 Z" fill="#d2d2d7"/>
<path d="M224.0,146.5 L213.0,158.0 L203.0,169.0" fill="none" stroke="#ececf0" stroke-width="2"/>
<path d="M162.0,153.8 C161.8,152.8 169.3,149.2 172.0,148.0 C174.7,146.8 182.4,144.4 185.4,143.8 C188.4,143.2 195.9,142.9 198.0,143.0 C200.1,143.1 203.9,144.1 203.8,145.0 C203.7,145.9 198.6,149.4 197.0,150.5 C195.4,151.6 193.1,153.8 190.4,154.5 C187.7,155.2 176.9,156.8 173.6,156.7 C170.3,156.6 162.2,154.8 162.0,153.8 Z" fill="#e98e94"/>
<path d="M134.0,179.0 C135.5,178.4 147.5,180.4 151.9,181.0 C156.3,181.6 169.4,183.1 172.0,184.0 C174.6,184.9 174.1,187.7 174.0,189.0 C173.9,190.3 172.2,193.7 171.0,195.0 C169.8,196.3 165.6,199.2 164.0,200.0 C162.4,200.8 158.3,202.3 157.0,202.0 C155.7,201.7 154.2,198.4 153.0,197.0 C151.8,195.6 148.6,191.3 147.0,190.0 C145.4,188.7 140.5,187.3 139.0,186.0 C137.5,184.7 132.5,179.6 134.0,179.0 Z" fill="#c20a0d"/>
<path d="M172.5,168 C173,156.5 191.5,155 194.5,170" fill="none" stroke="#2f8f13" stroke-width="5"/>
<path d="M172.5,168 C173,156.5 191.5,155 194.5,170" fill="none" stroke="#86d26e" stroke-width="2.6"/>
<path d="M178,168 C179,162.5 187,162 188.5,168.5 Z" fill="#c20a0d"/>
<path d="M157.5,181.0 C157.9,182.5 158.7,187.2 160.0,190.0 C161.3,192.8 163.0,195.9 165.5,198.0 C168.0,200.1 171.2,201.6 175.0,202.5 C178.8,203.4 183.8,203.4 188.0,203.5 C192.2,203.6 196.8,202.6 200.0,203.0 C203.2,203.4 205.8,205.5 207.0,206.0" fill="none" stroke="#2f8f13" stroke-width="6.2"/>
<path d="M157.5,181.0 C157.9,182.5 158.7,187.2 160.0,190.0 C161.3,192.8 163.0,195.9 165.5,198.0 C168.0,200.1 171.2,201.6 175.0,202.5 C178.8,203.4 183.8,203.4 188.0,203.5 C192.2,203.6 196.8,202.6 200.0,203.0 C203.2,203.4 205.8,205.5 207.0,206.0" fill="none" stroke="#86d26e" stroke-width="3"/>
<path d="M131.8,167.5 C131.2,165.8 132.0,165.5 133.4,164.0 C134.8,162.5 141.2,156.4 143.5,155.0 C145.8,153.6 151.0,151.3 153.5,151.7 C156.0,152.1 162.6,156.8 165.3,158.4 C168.0,160.0 173.7,163.6 177.0,165.0 C180.3,166.4 190.3,169.2 193.8,170.0 C197.3,170.8 205.6,170.4 207.0,171.8 C208.4,173.2 206.3,179.6 206.0,182.0 C205.7,184.4 206.9,191.2 204.5,192.0 C202.1,192.8 189.6,189.5 185.4,188.6 C181.2,187.7 172.5,185.1 168.6,184.4 C164.7,183.7 155.4,183.4 151.9,182.7 C148.4,182.0 140.8,180.3 138.5,178.5 C136.2,176.7 132.4,169.2 131.8,167.5 Z" fill="#faf0c2" stroke="#cfc68a" stroke-width="0.4"/>
<path d="M140.0,176.0 C141.6,176.1 148.7,178.9 152.0,179.5 C155.3,180.1 164.7,180.7 168.6,181.4 C172.5,182.1 181.4,184.7 185.4,185.6 C189.4,186.5 200.8,188.3 203.0,189.0 C205.2,189.7 206.6,192.0 204.5,192.0 C202.4,192.0 189.6,189.5 185.4,188.6 C181.2,187.7 172.5,185.1 168.6,184.4 C164.7,183.7 155.4,183.4 151.9,182.7 C148.4,182.0 139.9,179.3 138.5,178.5 C137.1,177.7 138.4,175.9 140.0,176.0 Z" fill="#efe3a6"/>
<path d="M150.0,158.0 C150.2,157.4 159.0,160.6 162.0,162.0 C165.0,163.4 172.5,168.5 176.0,170.0 C179.5,171.5 192.0,174.7 192.0,175.0 C192.0,175.3 179.7,173.9 176.0,173.0 C172.3,172.1 163.0,168.8 160.0,167.0 C157.0,165.2 149.8,158.6 150.0,158.0 Z" fill="#fdf8dc"/>
<path d="M124.5,190.0 C124.8,186.8 126.3,178.0 127.0,176.0 C127.7,174.0 130.1,170.0 131.0,170.0 C131.9,170.0 135.2,174.8 136.0,176.0 C136.8,177.2 137.8,181.7 139.0,182.5 C140.2,183.3 146.5,183.8 148.0,184.5 C149.5,185.2 153.2,188.2 154.0,189.5 C154.8,190.8 156.0,196.3 156.0,198.0 C156.0,199.7 151.9,204.3 154.0,206.0 C156.1,207.7 173.0,213.3 177.0,215.0 C181.0,216.7 190.7,221.3 194.0,222.7 C197.3,224.1 206.6,227.7 210.0,229.4 C213.4,231.1 224.5,238.1 228.0,240.0 C231.5,241.9 241.6,247.1 245.0,248.4 C248.4,249.7 258.4,251.8 261.8,252.6 C265.1,253.4 275.2,255.6 278.5,256.0 C281.8,256.4 291.6,256.8 295.0,256.8 C298.4,256.8 308.6,256.2 312.0,256.0 C315.4,255.8 326.2,255.0 328.8,255.2 C331.2,255.3 335.4,257.0 337.0,257.5 C338.6,258.0 343.1,260.1 345.0,260.6 C346.9,261.1 353.1,262.0 356.0,262.6 C358.9,263.2 370.1,266.2 373.5,266.9 C376.9,267.6 387.5,269.0 390.0,269.4 C392.5,269.8 397.7,270.1 398.6,271.0 C399.5,271.9 399.5,277.4 398.6,278.0 C397.7,278.6 392.5,277.3 390.0,277.0 C387.5,276.7 376.7,275.5 373.5,275.3 C370.3,275.1 360.9,275.4 358.0,275.0 C355.1,274.6 347.9,271.9 345.0,271.8 C342.1,271.7 332.1,273.2 328.8,273.5 C325.4,273.8 315.4,274.3 312.0,274.3 C308.6,274.3 298.6,273.8 295.2,273.5 C291.9,273.2 281.9,271.9 278.5,271.0 C275.1,270.1 265.1,266.1 261.8,265.0 C258.4,263.9 247.5,260.8 245.0,259.5 C242.5,258.2 239.2,253.7 236.9,252.0 C234.6,250.3 225.3,244.8 222.0,243.0 C218.7,241.2 207.5,236.0 203.8,234.4 C200.1,232.8 189.8,228.8 185.4,227.0 C181.1,225.2 164.5,218.2 160.3,216.8 C156.1,215.5 147.1,214.3 143.5,213.5 C139.9,212.7 126.1,210.8 124.2,208.4 C122.3,206.1 124.2,193.2 124.5,190.0 Z" fill="#2f8f13"/>
<path d="M128.5,192.0 C128.6,188.9 129.5,184.8 130.0,183.0 C130.5,181.2 131.4,178.4 132.0,178.5 C132.6,178.6 133.7,182.2 134.5,183.5 C135.3,184.8 136.7,187.6 138.0,188.5 C139.3,189.4 143.1,189.6 144.5,190.5 C145.9,191.4 147.8,193.5 148.3,195.0 C148.8,196.5 148.9,200.3 148.5,202.0 C148.1,203.7 146.4,206.5 145.0,207.5 C143.6,208.5 140.1,209.7 138.0,209.5 C135.9,209.3 130.8,208.3 129.5,206.0 C128.2,203.7 128.4,195.1 128.5,192.0 Z" fill="#86d26e"/>
<path d="M130.0,193.0 C130.5,191.4 134.3,190.0 136.0,190.0 C137.7,190.0 141.8,191.7 143.0,193.0 C144.2,194.3 145.4,198.5 145.0,200.0 C144.6,201.5 141.7,203.7 140.0,204.0 C138.3,204.3 133.3,203.5 132.0,202.0 C130.7,200.5 129.5,194.6 130.0,193.0 Z" fill="#c6e9b6"/>
<path d="M126.3,204.0 C126.2,202.0 125.6,195.8 125.8,192.0 C126.0,188.2 126.9,183.9 127.6,181.0 C128.3,178.1 129.8,175.6 130.2,174.5" fill="none" stroke="#86d26e" stroke-width="1.6"/>
<path d="M139.0,186.0 C140.2,186.2 144.0,186.5 146.0,187.5 C148.0,188.5 149.9,190.1 151.0,192.0 C152.1,193.9 152.7,196.8 152.8,199.0 C152.9,201.2 152.5,203.7 151.5,205.5 C150.5,207.3 147.8,209.2 147.0,210.0" fill="none" stroke="#86d26e" stroke-width="1.8"/>
<path d="M150.0,207.5 C153.0,208.7 161.3,211.8 168.0,214.5 C174.7,217.2 183.5,221.2 190.0,224.0 C196.5,226.8 201.2,228.5 207.0,231.5 C212.8,234.5 219.2,238.6 225.0,242.0 C230.8,245.4 236.5,249.4 242.0,252.0 C247.5,254.6 252.5,255.8 258.0,257.5 C263.5,259.2 272.2,261.2 275.0,262.0" fill="none" stroke="#86d26e" stroke-width="3.8" stroke-linecap='round'/>
<path d="M283.5,265.5 C284.5,264.4 298.3,260.9 303.6,260.2 C308.9,259.5 323.8,259.0 328.7,259.3 C333.6,259.6 345.0,261.4 346.0,262.5 C347.0,263.6 341.0,267.3 337.0,268.3 C333.0,269.3 316.9,270.5 312.0,270.7 C307.1,270.9 298.3,270.6 295.0,270.0 C291.7,269.4 282.5,266.6 283.5,265.5 Z" fill="#86d26e"/>
<path d="M374.0,270.3 C375.1,270.2 381.9,271.4 384.0,271.8 C386.1,272.2 392.0,273.1 392.0,273.3 C392.0,273.5 386.0,273.7 384.0,273.6 C382.0,273.5 376.2,273.0 375.0,272.6 C373.8,272.2 372.9,270.4 374.0,270.3 Z" fill="#86d26e"/>
<path d="M270.0,269.5 C271.2,269.3 277.0,270.3 280.0,271.0 C283.0,271.7 291.6,274.6 295.3,275.5 C299.0,276.4 308.1,278.5 312.0,278.5 C315.9,278.5 324.8,276.2 328.7,275.4 C332.6,274.6 341.6,272.5 345.0,272.0 C348.4,271.5 356.3,271.1 358.0,271.5 C359.7,271.9 361.0,274.7 359.5,275.5 C358.0,276.3 348.4,277.4 345.0,278.2 C341.6,279.0 333.9,281.1 330.0,282.0 C326.1,282.9 316.4,285.8 312.0,285.8 C307.6,285.8 296.0,283.0 292.0,282.0 C288.0,281.0 280.6,278.1 278.0,277.0 C275.4,275.9 270.9,273.4 270.0,272.5 C269.1,271.6 268.8,269.7 270.0,269.5 Z" fill="#f6d31c"/>
<path d="M325.0,254.6 C325.8,254.0 336.9,253.8 340.0,254.0 C343.1,254.2 349.9,255.7 352.0,256.5 C354.1,257.3 358.0,260.3 358.0,261.0 C358.0,261.7 353.5,262.4 352.0,262.5 C350.5,262.6 347.2,262.0 345.0,261.6 C342.8,261.2 335.3,260.3 333.0,259.5 C330.7,258.7 324.2,255.2 325.0,254.6 Z" fill="#f6d31c"/>
<path d="M143.0,227.5 C143.8,226.8 150.3,227.8 153.0,228.5 C155.7,229.2 160.5,231.7 163.0,233.0 C165.5,234.3 171.5,237.4 172.0,238.5 C172.5,239.6 169.1,241.0 167.0,241.0 C164.9,241.0 158.7,239.4 156.0,238.5 C153.3,237.6 148.7,235.5 147.0,234.0 C145.3,232.5 142.2,228.2 143.0,227.5 Z" fill="#f1dcdd"/>
<path d="M124.6,207.0 C125.5,206.7 130.2,210.7 132.0,212.0 C133.8,213.3 137.5,216.7 140.2,218.0 C142.9,219.3 152.3,221.6 155.2,223.0 C158.1,224.4 163.1,228.2 165.3,229.7 C167.5,231.2 173.8,235.2 174.0,236.0 C174.2,236.8 169.0,237.1 167.0,236.5 C165.0,235.9 159.7,231.6 157.0,230.5 C154.3,229.4 146.2,227.5 143.5,227.0 C140.8,226.5 136.0,226.3 134.0,226.0 C132.0,225.7 127.8,225.3 126.7,224.0 C125.6,222.7 124.7,217.0 124.5,215.0 C124.3,213.0 123.7,207.3 124.6,207.0 Z" fill="#f7b6b8"/>
<path d="M124.6,207.5 C125.8,208.3 129.4,210.7 132.0,212.5 C134.6,214.3 136.3,216.7 140.2,218.5 C144.1,220.3 151.0,221.6 155.2,223.5 C159.4,225.4 162.2,228.1 165.3,230.2 C168.4,232.3 172.6,235.0 174.0,236.0" fill="none" stroke="#e9565c" stroke-width="1.3"/>
<path d="M127.0,224.5 C129.2,224.6 135.8,224.3 140.0,225.0 C144.2,225.7 148.2,226.9 152.0,228.5 C155.8,230.1 161.2,233.5 163.0,234.5" fill="none" stroke="#ef7f84" stroke-width="1.6"/>
<ellipse cx="138.3" cy="234.3" rx="8.6" ry="5.6" transform="rotate(48 138.3 234.3)" fill="#b1500f"/>
<ellipse cx="157.8" cy="242.6" rx="10.5" ry="4.6" transform="rotate(8 157.8 242.6)" fill="#b1500f"/>
<ellipse cx="180.3" cy="240.6" rx="10" ry="4.7" transform="rotate(-9 180.3 240.6)" fill="#b1500f"/>
<path d="M143.0,238.5 C143.8,239.0 146.5,240.5 148.0,241.5 C149.5,242.5 151.3,244.0 152.0,244.5" fill="none" stroke="#b1500f" stroke-width="4"/>
<path d="M166.0,243.5 C166.7,243.5 168.7,243.5 170.0,243.3 C171.3,243.1 173.3,242.6 174.0,242.5" fill="none" stroke="#b1500f" stroke-width="4.5"/>
<path d="M187.0,240.5 C188.2,240.0 191.9,238.9 194.0,237.5 C196.1,236.1 197.8,234.0 199.5,232.0 C201.2,230.0 202.5,227.8 204.0,225.5 C205.5,223.2 207.8,219.7 208.5,218.5" fill="none" stroke="#b1500f" stroke-width="5.6" stroke-linecap='round'/>
<ellipse cx="137.6" cy="233.4" rx="5.4" ry="3" transform="rotate(52 137.6 233.4)" fill="#d79c68"/>
<ellipse cx="158" cy="242.4" rx="7.4" ry="2.4" transform="rotate(8 158 242.4)" fill="#ddab78"/>
<ellipse cx="180" cy="240.5" rx="7" ry="2.6" transform="rotate(-9 180 240.5)" fill="#e6bd8a"/>
<path d="M181.0,246.3 C183.3,247.0 189.9,249.9 195.0,250.3 C200.1,250.7 206.1,250.1 211.7,248.8 C217.3,247.5 222.9,244.7 228.5,242.3 C234.1,239.9 240.7,236.0 245.2,234.3 C249.7,232.6 253.8,232.4 255.5,232.0" fill="none" stroke="#ee5f66" stroke-width="3.2" stroke-linecap='round'/>
<path d="M195.0,250.0 C197.8,249.8 206.1,249.8 211.7,248.5 C217.3,247.2 225.7,243.1 228.5,242.0" fill="none" stroke="#f58c90" stroke-width="1.2"/>
<path d="M205.0,185.3 C205.2,181.8 206.2,174.8 207.6,171.9 C209.0,169.0 214.4,162.3 216.8,160.1 C219.2,157.9 226.0,154.5 228.5,153.4 C231.0,152.3 236.0,151.1 238.5,151.0 C241.0,150.9 247.2,151.5 250.3,152.6 C253.4,153.7 262.0,157.6 265.3,160.0 C268.6,162.4 276.4,170.8 278.8,173.5 C281.2,176.2 284.8,180.7 286.0,183.0 C287.2,185.3 289.0,190.7 289.0,193.0 C289.0,195.3 287.8,200.4 286.0,203.0 C284.2,205.6 276.8,212.6 274.0,215.0 C271.2,217.4 264.8,221.7 262.0,223.4 C259.2,225.2 253.1,229.0 250.2,230.0 C247.3,231.0 240.5,232.5 237.0,232.0 C233.5,231.5 223.2,227.1 220.0,226.0 C216.8,224.9 211.9,222.7 210.0,222.5 C208.1,222.3 204.1,225.4 203.5,224.5 C202.9,223.6 204.7,217.7 205.0,215.0 C205.3,212.3 206.0,205.2 206.0,201.7 C206.0,198.2 204.8,188.8 205.0,185.3 Z" fill="#f4c5c6" stroke="#5e2812" stroke-width="1.1"/>
<path d="M222.0,175.0 C224.3,170.6 231.0,166.3 235.0,165.0 C239.0,163.7 247.6,163.5 252.0,165.0 C256.4,166.5 265.1,172.4 268.0,176.0 C270.9,179.6 274.3,187.7 274.0,192.0 C273.7,196.3 269.5,204.5 266.0,208.0 C262.5,211.5 253.1,217.2 248.0,218.0 C242.9,218.8 232.0,216.7 228.0,214.0 C224.0,211.3 218.8,203.2 218.0,198.0 C217.2,192.8 219.7,179.4 222.0,175.0 Z" fill="#f9d9da"/>
<path d="M209.2,201.2 C209.7,199.1 211.7,189.0 212.6,185.3 C213.5,181.6 214.8,176.2 216.0,173.5 C217.2,170.8 220.1,167.0 221.8,165.2 C223.5,163.4 227.6,160.8 228.5,160.1 M216.0,173.5 L213.5,168.0 M225.0,160.0 C225.8,160.9 229.4,165.8 231.0,166.8 C232.6,167.8 234.4,167.8 237.0,167.7 C239.6,167.6 248.5,166.2 250.3,166.0 M231.0,166.8 L227.0,157.5 M250.3,153.4 C250.1,154.3 249.3,158.3 248.6,160.0 C247.9,161.7 246.0,164.9 245.3,166.0 C244.6,167.1 243.8,168.2 243.6,168.5 M249.5,158.5 L255.0,157.0 M216.8,201.0 C217.2,199.6 218.9,193.3 220.0,190.3 C221.1,187.3 223.2,181.2 225.0,178.6 C226.8,176.0 232.4,172.0 233.5,171.0 M238.5,178.6 C239.0,179.5 241.8,183.3 242.0,185.3 C242.2,187.3 240.7,191.4 240.0,193.6 C239.3,195.8 237.4,200.9 237.0,202.0 M245.0,183.6 C246.1,182.9 251.1,179.7 253.6,178.6 C256.1,177.5 260.3,175.4 263.7,175.2 C267.1,175.0 276.8,176.7 278.8,176.9 M258.6,200.3 C258.4,199.0 256.9,192.5 257.0,190.3 C257.1,188.1 258.8,185.4 259.5,183.6 C260.2,181.8 261.2,178.9 262.0,176.9 C262.8,174.9 264.4,170.3 265.3,168.5 C266.2,166.7 268.2,164.2 268.7,163.5 M220.0,193.6 C221.1,192.9 226.5,189.5 228.5,188.6 C230.5,187.7 234.3,187.2 235.2,187.0 M268.7,190.0 C269.6,189.3 273.6,185.4 275.4,185.0 C277.2,184.6 281.1,186.7 282.0,187.0 M272.0,193.6 C272.9,194.1 277.0,196.7 278.8,197.0 C280.6,197.3 284.5,196.1 285.4,196.0 M208.4,219.3 C208.7,218.1 210.9,212.3 211.0,210.0 C211.1,207.7 209.1,205.0 209.2,201.7 C209.3,198.4 211.4,187.2 211.7,185.0 M208.4,219.3 C209.9,218.5 216.2,215.2 220.0,213.5 C223.8,211.8 233.0,208.0 237.0,206.8 C241.0,205.6 247.0,204.8 250.3,204.3 C253.6,203.8 258.9,204.2 262.0,203.4 C265.1,202.6 270.8,199.7 273.7,198.4 C276.6,197.1 282.5,194.1 283.8,193.4 M218.4,220.0 C220.2,219.8 228.6,218.5 232.0,218.5 C235.4,218.5 241.2,219.6 243.6,220.2 C246.0,220.8 249.4,222.4 250.3,222.7 M236.9,206.8 C236.4,205.7 234.3,200.4 233.5,198.4 C232.7,196.4 231.3,192.6 231.0,191.7 M220.0,213.5 C219.8,212.4 218.3,207.5 218.5,205.0 C218.7,202.5 220.5,197.2 221.8,195.0 C223.1,192.8 227.6,189.3 228.5,188.4 M250.3,204.3 C250.7,203.1 252.6,197.3 253.6,195.0 C254.6,192.7 257.2,187.8 257.8,186.7 M262.0,203.4 C262.7,204.5 267.0,209.8 267.0,211.8 C267.0,213.8 262.7,217.6 262.0,218.5 M268.7,201.0 C269.6,201.8 273.6,206.5 275.4,206.8 C277.2,207.1 281.1,203.9 282.0,203.4 M245.3,206.0 C246.2,207.0 250.0,211.8 252.0,213.5 C254.0,215.2 259.2,217.8 260.3,218.5 M232.0,218.5 L236.0,226.0 M211.0,210.0 L206.5,205.0 M212.6,185.3 L208.0,180.0 M210.8,193.6 Q213.4,192.3 217.2,189.8 M214.3,179.5 Q212.5,177.7 212.4,174.6 M219.3,168.7 Q218.5,166.5 217.8,163.4 M225.6,162.3 Q224.4,161.0 225.1,158.1 M218.5,195.2 Q220.7,193.1 224.1,192.1 M222.1,185.4 Q220.2,183.9 219.2,180.4 M230.9,173.3 Q230.1,170.3 230.3,168.1 M239.6,180.8 Q243.0,182.8 246.7,182.9 M240.7,190.6 Q241.6,193.8 244.2,197.5 M238.2,198.5 Q236.1,199.9 232.8,202.1 M247.9,181.9 Q251.5,181.4 253.5,182.4 M259.5,176.6 Q260.9,173.8 263.6,170.8 M270.9,176.0 Q272.7,172.8 274.9,170.1 M257.9,195.7 Q256.3,193.2 252.7,190.3 M258.7,185.6 Q258.5,183.3 256.8,180.4 M260.4,181.3 Q260.0,178.6 258.6,176.6 M263.4,173.4 Q263.0,170.1 262.1,168.7 M213.6,216.7 Q217.4,216.6 219.8,218.0 M227.7,210.5 Q229.0,208.7 229.8,206.0 M241.8,205.9 Q243.0,202.5 244.2,200.9 M254.0,204.0 Q256.5,201.9 260.1,199.0 M266.7,201.4 Q269.4,201.3 271.1,203.0 M277.7,196.4 Q278.5,191.9 280.4,189.3 M223.9,219.4 Q225.2,220.7 227.4,221.8 M240.0,219.7 Q244.0,217.7 246.1,215.2 M247.5,221.6 Q250.7,219.4 254.1,217.7 M227.5,162.9 Q230.7,164.1 233.9,164.4 M233.6,167.2 Q236.8,166.5 239.0,164.3 M244.9,166.7 Q246.3,163.6 248.2,159.8" fill="none" stroke="#823f1a" stroke-width="1.15" stroke-linecap='round'/>
<path d="M204.0,225.5 C204.7,224.5 207.1,221.1 208.4,219.3 C209.7,217.6 211.4,215.7 212.0,215.0" fill="none" stroke="#b1500f" stroke-width="3"/>
<path d="M257.5,229.5 C258.0,229.2 261.5,229.5 263.0,230.0 C264.5,230.5 268.0,232.3 269.0,233.0 C270.0,233.7 271.0,235.2 270.5,235.5 C270.0,235.8 266.5,235.4 265.0,235.0 C263.5,234.6 260.0,233.2 259.0,232.5 C258.0,231.8 257.0,229.8 257.5,229.5 Z" fill="#e7a7b3" stroke="#93566a" stroke-width="0.5"/>
<path d="M267.5,221.5 C268.8,221.7 272.8,221.4 275.0,222.5 C277.2,223.6 279.7,225.8 281.0,228.0 C282.3,230.2 283.0,233.8 283.0,236.0 C283.0,238.2 281.3,240.2 281.0,241.0" fill="none" stroke="#d9cf8e" stroke-width="7.8" stroke-linecap='round'/>
<path d="M267.5,221.5 C268.8,221.7 272.8,221.4 275.0,222.5 C277.2,223.6 279.7,225.8 281.0,228.0 C282.3,230.2 283.0,233.8 283.0,236.0 C283.0,238.2 281.3,240.2 281.0,241.0" fill="none" stroke="#faf2c4" stroke-width="6.8" stroke-linecap='round'/>
</g>
<g id="headpart">
<path d="M413.7,243.8 C415.0,243.4 424.4,240.3 427.0,239.4 C429.6,238.5 435.7,236.0 440.0,234.6 C444.3,233.2 465.6,227.0 470.3,225.6 C475.0,224.2 483.0,221.7 487.0,220.5 C491.0,219.3 508.1,214.1 510.5,213.4" fill="none" stroke="#b9303c" stroke-width="2.5"/>
<path d="M401.0,242.5 C401.8,241.6 404.3,238.7 406.0,237.0 C407.7,235.3 409.3,234.2 411.0,232.5 C412.7,230.8 415.2,227.9 416.0,227.0" fill="none" stroke="#b4323e" stroke-width="2"/>
<path d="M409.0,250.0 C409.9,250.4 413.5,251.7 415.4,253.0 C417.3,254.3 421.1,257.4 423.5,260.1 C425.9,262.8 430.9,269.9 433.6,273.5 C436.3,277.1 441.1,284.0 443.6,286.9 C446.1,289.8 450.9,294.2 452.0,295.3" fill="none" stroke="#b4323e" stroke-width="2.2"/>
<path d="M409.0,249.0 C409.9,249.5 414.1,251.7 416.0,253.0 C417.9,254.3 422.1,258.2 423.0,259.0" fill="none" stroke="#b4323e" stroke-width="3"/>
<circle cx="453.3" cy="296.6" r="3.7" fill="#cfcbcd" stroke="#2e2a2c" stroke-width="0.9"/>
<circle cx="453.3" cy="296.6" r="1.9" fill="#241a1c"/>
<path d="M386.9,258.0 C386.6,259.8 385.8,265.6 385.2,268.5 C384.6,271.4 384.3,272.7 383.5,275.2 C382.7,277.7 381.0,281.1 380.2,283.6 C379.4,286.1 378.8,289.2 378.5,290.3" fill="none" stroke="#b4323e" stroke-width="1.2"/>
<path d="M383.5,275.2 C384.1,276.6 385.8,281.4 386.9,283.6 C388.0,285.8 389.6,287.8 390.2,288.6" fill="none" stroke="#b4323e" stroke-width="1.1"/>
<path d="M388.5,258.0 L387.0,268.0" fill="none" stroke="#b4323e" stroke-width="1"/>
<path d="M383.5,279.5 C381.8,280.8 378.0,285.3 373.5,287.0 C369.0,288.7 362.3,288.8 356.8,289.5 C351.2,290.2 345.0,290.9 340.0,291.0 C335.0,291.1 329.2,290.4 327.0,290.3" fill="none" stroke="#a03642" stroke-width="1"/>
<path d="M377.7,250.1 C377.7,248.5 378.7,245.4 380.2,244.3 C381.7,243.2 386.4,241.9 388.6,241.8 C390.8,241.6 395.0,243.5 397.0,243.4 C399.0,243.3 401.9,241.1 403.7,240.9 C405.5,240.7 409.1,241.0 410.4,241.8 C411.7,242.5 413.5,245.2 413.7,246.8 C413.9,248.4 412.9,252.0 412.0,253.5 C411.1,255.0 409.0,257.0 407.0,257.7 C405.0,258.4 399.7,258.3 397.0,258.5 C394.3,258.7 389.1,259.6 386.9,259.3 C384.7,259.0 381.4,257.2 380.2,256.0 C379.0,254.8 377.7,251.7 377.7,250.1 Z" fill="#d94a56" stroke="#a82c3a" stroke-width="0.6"/>
<ellipse cx="389.6" cy="249.3" rx="7.2" ry="4.2" transform="rotate(-5 389.6 249.3)" fill="#eea4ab"/>
<path d="M398.0,246.0 C398.7,244.9 403.4,243.9 405.0,244.0 C406.6,244.1 409.7,245.4 410.0,246.5 C410.3,247.6 408.3,251.2 407.0,252.0 C405.7,252.8 401.2,253.3 400.0,252.5 C398.8,251.7 397.3,247.1 398.0,246.0 Z" fill="#e25a66"/>
<path d="M390.0,270.0 C392.1,269.3 412.3,269.1 415.1,269.3 C417.9,269.5 422.2,271.9 423.5,272.6 C424.8,273.3 429.4,276.9 430.2,277.7 C431.0,278.5 433.0,281.7 433.0,282.5 C433.0,283.3 430.6,286.6 430.0,287.0 C429.4,287.4 427.1,287.3 425.2,287.2 C423.3,287.1 408.9,285.6 406.8,285.4 C404.6,285.2 399.9,285.2 399.2,284.6 C398.5,284.0 399.0,278.6 398.2,278.0 C397.4,277.4 390.7,278.3 390.0,277.6 C389.3,276.9 387.9,270.7 390.0,270.0 Z" fill="#2f8f13"/>
<path d="M390.0,271.8 C391.6,271.7 411.9,271.8 413.5,272.0 C415.1,272.2 415.1,274.2 413.5,274.3 C411.9,274.4 391.6,274.2 390.0,274.0 C388.4,273.8 388.4,271.9 390.0,271.8 Z" fill="#86d26e"/>
<path d="M401.7,279.0 C402.1,278.4 406.0,277.9 407.0,278.0 C408.0,278.1 411.4,279.4 411.8,280.0 C412.2,280.6 411.9,283.6 411.0,284.0 C410.1,284.4 403.9,284.5 403.0,284.0 C402.1,283.5 401.3,279.6 401.7,279.0 Z" fill="#86d26e"/>
<path d="M415.5,275.0 C416.0,274.6 420.2,274.2 421.0,274.5 C421.8,274.8 423.6,277.4 423.5,278.0 C423.4,278.6 420.8,280.4 420.0,280.5 C419.2,280.6 416.4,279.6 416.0,279.0 C415.6,278.4 415.0,275.4 415.5,275.0 Z" fill="#86d26e"/>
<ellipse cx="429.3" cy="282.7" rx="4.1" ry="4.4" fill="#e9d43c" stroke="#8a9a20" stroke-width="0.5"/>
</g>
<g id="lines" stroke="#4a4a4a" stroke-width="0.6" fill="none">
<path d="M214,129 L327,99"/>
<path d="M186,147.5 L327,119"/>
<path d="M246,187.5 L328,138.5"/>
<path d="M358,158.5 L324.5,195"/>
<path d="M358,174 L343,231"/>
<path d="M472,167.5 L506,167"/>
<path d="M445.3,194.4 L505,189"/>
<path d="M397.5,250.5 L506,234"/>
<path d="M427,277.5 L506,255.5"/>
<path d="M432,283 L506,275.5"/>
<path d="M315,266 L409,315"/>
<path d="M319,279 L410,337"/>
<path d="M325,299 L410,357"/>
<path d="M259,277.5 L293,334"/>
<path d="M249.5,284.5 L287.5,339.5"/>
<path d="M89,183.5 L135,197"/>
<path d="M89,202.5 L132.5,219.5"/>
<path d="M89,222.5 L135,231"/>
<path d="M89,240.5 L176,240.5"/>
<path d="M82,259 L194.5,244.5"/>
<path d="M35,286 L85,299.5"/>
<path d="M142.5,328.5 L177.5,273"/>
<path d="M141.5,345 L197,273.5"/>
<path d="M142.5,365 L206,285.5"/>
</g>
<g id="dots" fill="#e0101a">
<circle cx="343" cy="232.8" r="3" fill="#8e1a2a"/><circle cx="343" cy="231.8" r="1.5" fill="#c8182c"/>
<circle cx="214" cy="129" r="1.4"/><circle cx="186" cy="147.5" r="1.4"/><circle cx="246" cy="187.5" r="1.4"/>
<circle cx="471.4" cy="167.6" r="1.7"/><circle cx="445.3" cy="194.4" r="1.5"/><circle cx="397.5" cy="250.5" r="1.4"/>
<circle cx="407.5" cy="279" r="1.4"/><circle cx="432" cy="283" r="1.4"/><circle cx="315" cy="266" r="1.4"/>
<circle cx="319" cy="279" r="1.4"/><circle cx="325" cy="299" r="1.4"/><circle cx="259" cy="277.5" r="1.4"/>
<circle cx="249.5" cy="284.5" r="1.4"/><circle cx="135" cy="197" r="1.4"/><circle cx="132.5" cy="219.5" r="1.4"/>
<circle cx="135" cy="231" r="1.4"/><circle cx="176" cy="240.5" r="1.4"/><circle cx="194.5" cy="244.5" r="1.4"/>
<circle cx="85" cy="299.5" r="1.4"/><circle cx="177.5" cy="273" r="1.4"/><circle cx="197" cy="273.5" r="1.4"/>
<circle cx="206" cy="285.5" r="1.4"/><circle cx="282.3" cy="236" r="1.3"/>
</g>
<g id="labels" fill="#1a1a1a" stroke="#1a1a1a" stroke-width="0.28" font-size="11">
<text x="25" y="184" textLength="57" lengthAdjust="spacingAndGlyphs">ESTÓMAGO</text>
<text x="48" y="203.5" textLength="34" lengthAdjust="spacingAndGlyphs">RIÑÓN</text>
<text x="40" y="225" textLength="42" lengthAdjust="spacingAndGlyphs">ÓSCULO</text>
<text x="32" y="244" textLength="51" lengthAdjust="spacingAndGlyphs">CORAZÓN</text>
<text stroke-width="0.12" x="6" y="260.5" font-size="7" textLength="71" lengthAdjust="spacingAndGlyphs">CONDUCTO DEFERENTE</text>
<text x="16" y="286" textLength="15" lengthAdjust="spacingAndGlyphs">PIE</text>
<text x="28" y="334" textLength="103" lengthAdjust="spacingAndGlyphs">GLÁNDULA MUCOSA</text>
<text x="77" y="350.5" textLength="56" lengthAdjust="spacingAndGlyphs">OVIDUCTO</text>
<text x="68" y="371.5" textLength="73" lengthAdjust="spacingAndGlyphs">ESPERMATECA</text>
<text x="335" y="103" textLength="44" lengthAdjust="spacingAndGlyphs">CONCHA</text>
<text x="335" y="122.5" textLength="40" lengthAdjust="spacingAndGlyphs">HÍGADO</text>
<text x="333" y="142.5" textLength="44" lengthAdjust="spacingAndGlyphs">PULMÓN</text>
<text x="362.5" y="159" textLength="23.5" lengthAdjust="spacingAndGlyphs">ANO</text>
<text stroke-width="0.12" x="361" y="173" font-size="7" textLength="69.5" lengthAdjust="spacingAndGlyphs">PORO RESPIRATORIO</text>
<text x="519" y="169.5" textLength="18.5" lengthAdjust="spacingAndGlyphs">OJO</text>
<text x="519" y="192.5" textLength="61.5" lengthAdjust="spacingAndGlyphs">TENTÁCULO</text>
<text stroke-width="0.12" x="514" y="237" font-size="9" textLength="76.5" lengthAdjust="spacingAndGlyphs">GANGLIO CEREBRAL</text>
<text stroke-width="0.12" x="514" y="259" font-size="9" textLength="80.5" lengthAdjust="spacingAndGlyphs">CONDUCTO SALIVAR</text>
<text x="515.5" y="279.5" font-size="11.5" textLength="27.5" lengthAdjust="spacingAndGlyphs">BOCA</text>
<text x="412.5" y="320.5" textLength="36.5" lengthAdjust="spacingAndGlyphs">BUCHE</text>
<text x="413" y="341.5" textLength="101" lengthAdjust="spacingAndGlyphs">GLÁNDULA SALIVAR</text>
<text x="413" y="361.5" textLength="77" lengthAdjust="spacingAndGlyphs">PORO GENITAL</text>
<text x="296" y="341.5" textLength="27.5" lengthAdjust="spacingAndGlyphs">PENE</text>
<text x="272.5" y="358" textLength="38.5" lengthAdjust="spacingAndGlyphs">VAGINA</text>
</g>
<g id="logo">
<path d="M9.7,381.3 C7,385 5.2,388 5.2,390 C5.2,393 7.5,394.3 9.7,394.3 Z" fill="#3b9fd9"/>
<path d="M9.7,381.3 C12.4,385 14.2,388 14.2,390 C14.2,393 12,394.3 9.7,394.3 Z" fill="#6cc04a"/>
<path d="M9.7,383.5 L9.7,394 M9.7,387 L7.2,385.6 M9.7,389.5 L6.4,388 M9.7,392 L6.8,390.8 M9.7,387 L12.2,385.6 M9.7,389.5 L13,388 M9.7,392 L12.6,390.8" stroke="#ffffff" stroke-width="0.55" fill="none"/>
<text x="15" y="390.3" font-size="10.5" font-weight="bold" fill="#4b3b31" textLength="32.5" lengthAdjust="spacingAndGlyphs">Ecología</text>
<text x="40.5" y="393.7" font-size="7.4" font-weight="bold" fill="#4b3b31" textLength="21" lengthAdjust="spacingAndGlyphs">verde</text>
</g>
</svg>
</body></html>
